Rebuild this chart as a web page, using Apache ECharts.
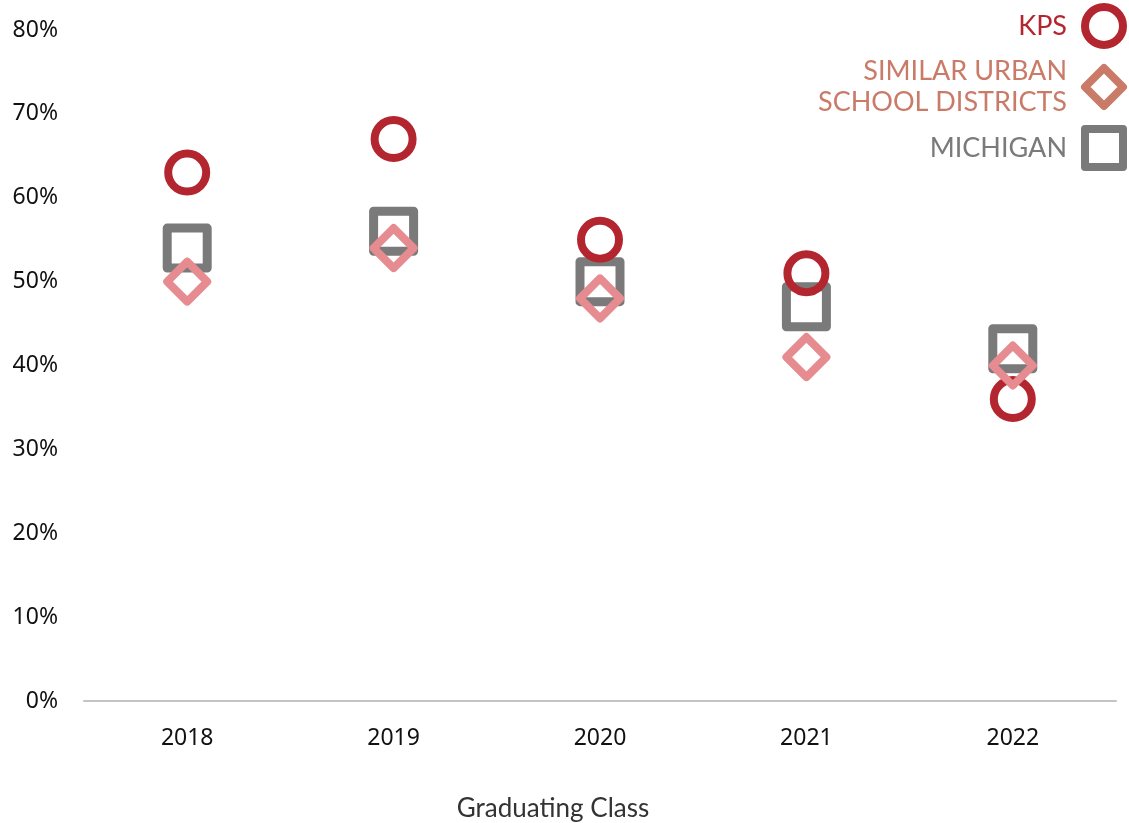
<!DOCTYPE html>
<html>
<head>
<meta charset="utf-8">
<script src="https://cdn.jsdelivr.net/npm/echarts@6/dist/echarts.min.js"></script>
<style>
  html, body { margin: 0; padding: 0; background: #fff; }
  #main { width: 1129px; height: 823px; }
</style>
</head>
<body>
<div id="main"></div>
<script>
const years = ['2018', '2019', '2020', '2021', '2022']
const kps = [63, 67, 55, 51, 36]
const similar = [50, 54, 48, 41, 40]
const michigan = [54, 56, 50, 47, 42]
const yTicks = [0, 10, 20, 30, 40, 50, 60, 70, 80]

const red = '#b3262f'
const pink = '#e68b8f'
const salmon = '#c97b68'
const grey = '#7a7a7a'

const chart = echarts.init(document.getElementById('main'))

const option = {
  animation: false,
  grid: { left: 84, right: 13, top: 30, bottom: 122, outerBoundsMode: 'none' },
  legend: {
    orient: 'vertical',
    right: -3,
    top: -2,
    align: 'right',
    itemWidth: 38,
    itemHeight: 38,
    itemGap: 7,
    selectedMode: false,
    textStyle: { fontFamily: 'Lato', fontSize: 27, padding: [0, 13, 0, 0] },
    data: [
      { name: 'KPS', icon: 'circle', itemStyle: { color: 'transparent', borderColor: red, borderWidth: 8, opacity: 1 }, textStyle: { color: red } },
      { name: 'SIMILAR URBAN\nSCHOOL DISTRICTS', icon: 'diamond', itemStyle: { color: 'transparent', borderColor: salmon, borderWidth: 8, opacity: 1 }, textStyle: { color: salmon, lineHeight: 31 } },
      { name: 'MICHIGAN', icon: 'rect', itemStyle: { color: 'transparent', borderColor: grey, borderWidth: 8, opacity: 1 }, textStyle: { color: grey } }
    ]
  },
  xAxis: {
    type: 'category',
    data: years,
    name: 'Graduating Class',
    nameLocation: 'middle',
    nameGap: 95,
    nameTextStyle: { fontFamily: 'Lato', fontSize: 26, color: '#333', padding: [0, 94, 0, 0] },
    axisLine: { lineStyle: { color: '#c4c4c4', width: 2 } },
    axisTick: { show: false },
    axisLabel: { fontFamily: 'Noto Sans', fontSize: 23, color: '#111', margin: 26 }
  },
  yAxis: {
    type: 'value',
    min: yTicks[0],
    max: yTicks[yTicks.length - 1],
    interval: 10,
    splitLine: { show: false },
    axisLine: { show: false },
    axisLabel: { fontFamily: 'Noto Sans', fontSize: 23, color: '#111', margin: 26, formatter: '{value}%' }
  },
  series: [
    {
      name: 'MICHIGAN',
      type: 'scatter',
      data: michigan,
      symbol: 'rect',
      symbolSize: 40,
      itemStyle: { color: 'transparent', borderColor: grey, borderWidth: 9, borderJoin: 'round', opacity: 1 },
      z: 2
    },
    {
      name: 'KPS',
      type: 'scatter',
      data: kps,
      symbol: 'circle',
      symbolSize: 38,
      itemStyle: { color: 'transparent', borderColor: red, borderWidth: 8, opacity: 1 },
      z: 3
    },
    {
      name: 'SIMILAR URBAN\nSCHOOL DISTRICTS',
      type: 'scatter',
      data: similar,
      symbol: 'diamond',
      symbolSize: 40,
      itemStyle: { color: 'transparent', borderColor: pink, borderWidth: 8, borderJoin: 'round', opacity: 1 },
      z: 4
    }
  ]
}

chart.setOption(option)
</script>
</body>
</html>
